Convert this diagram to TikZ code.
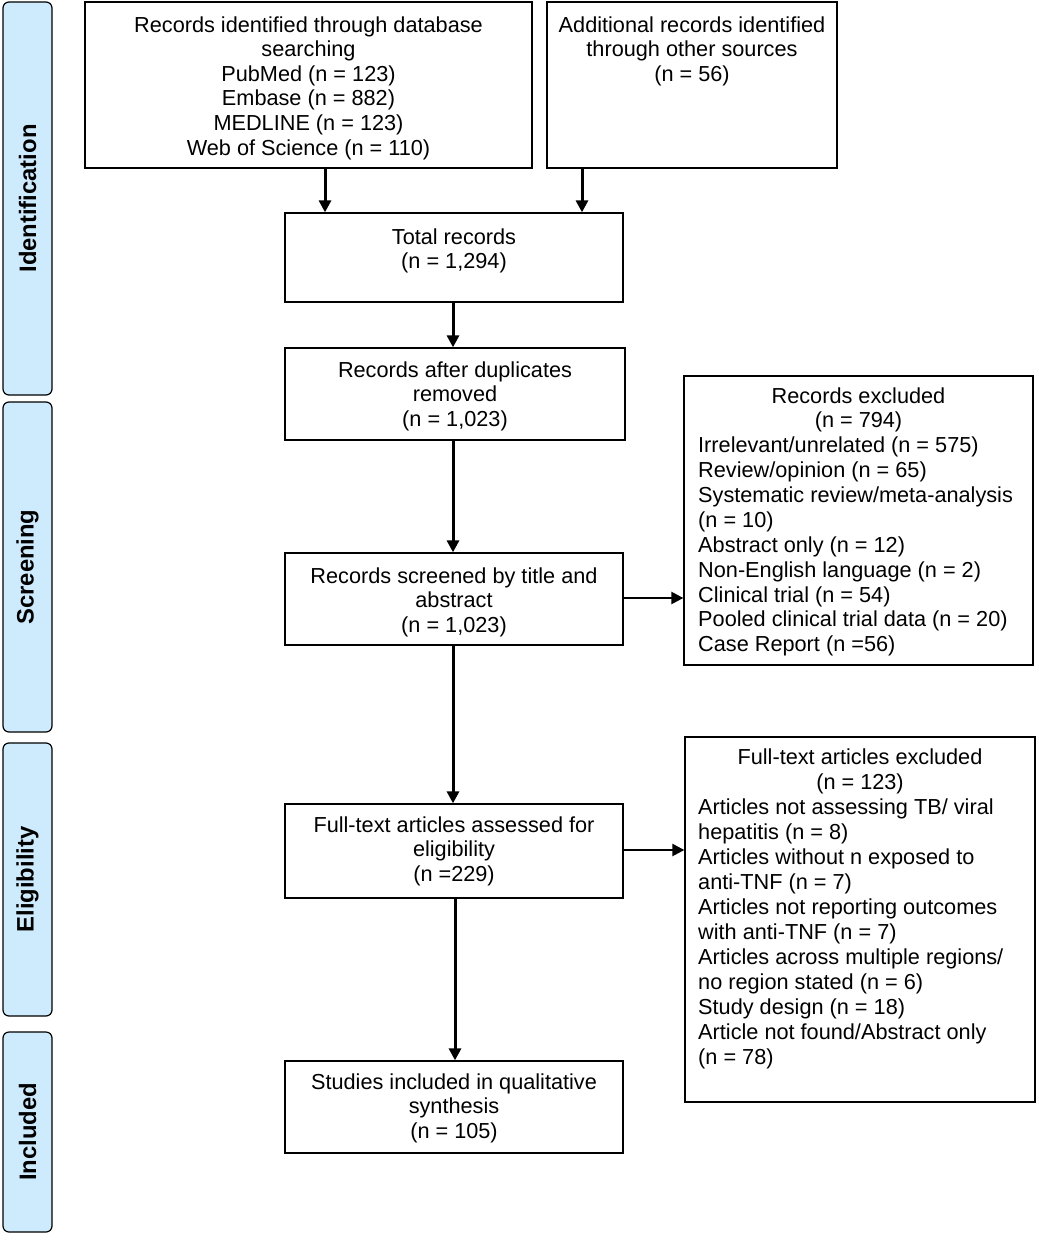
\documentclass[tikz,border=0pt]{standalone}
\usepackage{fontspec}
\setmainfont{Liberation Sans}
\usetikzlibrary{arrows.meta}
\definecolor{sidefill}{RGB}{206,235,253}
\begin{document}
\begin{tikzpicture}[x=1pt,y=-1pt,
  box/.style={draw, line width=1.3pt, inner sep=0pt},
  txt/.style={align=center, inner sep=0pt, font=\fontsize{21.7}{24.6}\selectfont},
  ltxt/.style={align=left, inner sep=0pt, anchor=west, font=\fontsize{21.7}{24.95}\selectfont},
  side/.style={draw, line width=1.2pt, fill=sidefill, rounded corners=6pt, inner sep=0pt, minimum width=49pt},
  sidetxt/.style={rotate=90, font=\fontsize{23.8}{26}\selectfont\bfseries, inner sep=0pt},
  arr/.style={line width=3pt, -{Triangle[length=12pt,width=12pt]}},
  harr/.style={line width=2.3pt, -{Triangle[length=12pt,width=12pt]}}
]
\useasboundingbox (0,0) rectangle (1038,1241);

% side labels
\node[side, minimum height=393pt] (sid) at (27.5,198.5) {};
\node[sidetxt] (sidt) at (sid.center) {Identification};
\node[side, minimum height=330pt] (sscr) at (27.5,567) {};
\node[sidetxt] (sscrt) at (sscr.center) {Screening};
\node[side, minimum height=273pt] (selg) at (27.5,879.5) {};
\node[sidetxt] (selgt) at (selg.center) {Eligibility};
\node[side, minimum height=200pt] (sinc) at (27.5,1132) {};
\node[sidetxt] (sinct) at (sinc.center) {Included};

% boxes
\node[box, minimum width=447pt, minimum height=166pt] (b1) at (308.5,85) {};
\node[txt] (b1t) at (308.5,88) {Records identified through database\\searching\\PubMed (n = 123)\\Embase (n = 882)\\MEDLINE (n = 123)\\Web of Science (n = 110)};

\node[box, minimum width=290pt, minimum height=166pt] (b2) at (692,85) {};
\node[txt] (b2t) at (692,51) {Additional records identified\\through other sources\\(n = 56)};

\node[box, minimum width=338pt, minimum height=89pt] (tot) at (454,257.5) {};
\node[txt] (tott) at (454,251) {Total records\\(n = 1,294)};

\node[box, minimum width=340pt, minimum height=92pt] (dup) at (455,394) {};
\node[txt] (dupt) at (455,396) {Records after duplicates\\removed\\(n = 1,023)};

\node[box, minimum width=338pt, minimum height=92pt] (scr) at (454,599) {};
\node[txt] (scrt) at (454,602) {Records screened by title and\\abstract\\(n = 1,023)};

\node[box, minimum width=338pt, minimum height=94pt] (ft) at (454,851) {};
\node[txt] (ftt) at (454,851) {Full-text articles assessed for\\eligibility\\(n =229)};

\node[box, minimum width=338pt, minimum height=92pt] (inc) at (454,1107) {};
\node[txt] (inct) at (454,1108) {Studies included in qualitative\\synthesis\\(n = 105)};

\node[box, minimum width=349pt, minimum height=289pt] (ex1) at (858.5,520.5) {};
\node[txt] (ex1h) at (858.5,410) {Records excluded\\(n = 794)};
\node[ltxt] (ex1l) at (698,546.5) {Irrelevant/unrelated (n = 575)\\Review/opinion (n = 65)\\Systematic review/meta-analysis\\(n = 10)\\Abstract only (n = 12)\\Non-English language (n = 2)\\Clinical trial (n = 54)\\Pooled clinical trial data (n = 20)\\Case Report (n =56)};

\node[box, minimum width=350pt, minimum height=365pt] (ex2) at (860,919.5) {};
\node[txt] (ex2h) at (860,771.5) {Full-text articles excluded\\(n = 123)};
\node[ltxt] (ex2l) at (698,934) {Articles not assessing TB/ viral\\hepatitis (n = 8)\\Articles without n exposed to\\anti-TNF (n = 7)\\Articles not reporting outcomes\\with anti-TNF (n = 7)\\Articles across multiple regions/\\no region stated (n = 6)\\Study design (n = 18)\\Article not found/Abstract only\\(n = 78)};

% connectors
\draw[arr] ([xshift=16.5pt]b1.south) -- ([xshift=16.5pt]b1.south |- tot.north);
\draw[arr] ([xshift=-110pt]b2.south) -- ([xshift=-110pt]b2.south |- tot.north);
\draw[arr] ([xshift=-1pt]tot.south) -- ([xshift=-1pt]tot.south |- dup.north);
\draw[arr] ([xshift=-2pt]dup.south) -- ([xshift=-2pt]dup.south |- scr.north);
\draw[arr] ([xshift=-1pt]scr.south) -- ([xshift=-1pt]scr.south |- ft.north);
\draw[arr] ([xshift=1pt]ft.south) -- ([xshift=1pt]ft.south |- inc.north);
\draw[harr] ([yshift=1pt]scr.east) -- ([yshift=1pt]scr.east -| ex1.west);
\draw[harr] ([yshift=1pt]ft.east) -- ([yshift=1pt]ft.east -| ex2.west);
\end{tikzpicture}
\end{document}
